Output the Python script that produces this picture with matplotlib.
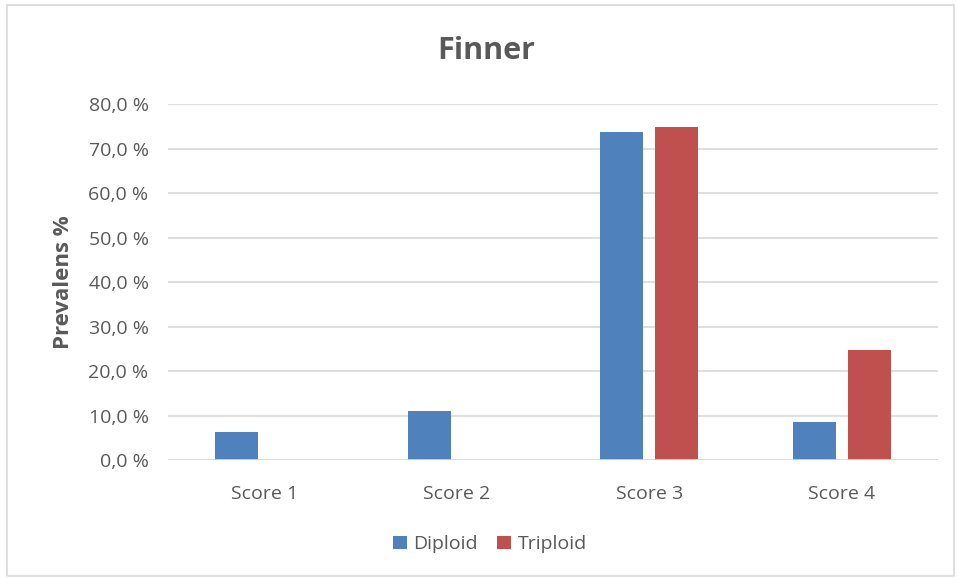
import numpy as np
import matplotlib
matplotlib.use("Agg")
import matplotlib.pyplot as plt
from matplotlib.patches import Rectangle
from matplotlib.ticker import FuncFormatter

categories = ["Score 1", "Score 2", "Score 3", "Score 4"]
diploid = [6.2, 11.1, 73.7, 8.6]
triploid = [0.0, 0.0, 74.8, 24.8]
series_names = ["Diploid", "Triploid"]
colors = ["#4F81BD", "#C0504D"]
text_color = "#595959"

plt.rcParams['font.family'] = ['Open Sans', 'DejaVu Sans']

fig = plt.figure(figsize=(9.57, 5.78), dpi=100)
ax = fig.add_axes([0.1755, 0.204, 0.8046, 0.616])

# ramme rundt hele diagrammet
fig.patches.append(Rectangle((0.007, 0.004), 0.99, 0.987, transform=fig.transFigure,
                             fill=False, edgecolor="#D9D9D9", linewidth=1.2))

x = np.arange(len(categories))
w = 0.223
off = 0.143
ax.bar(x - off, diploid, w, color=colors[0], label=series_names[0], zorder=3)
ax.bar(x + off, triploid, w, color=colors[1], label=series_names[1], zorder=3)

ax.set_xlim(-0.5, 3.5)
ax.set_ylim(0, 80)
ax.set_yticks(np.arange(0, 81, 10))
ax.yaxis.set_major_formatter(FuncFormatter(lambda v, p: f"{v:.1f}".replace(".", ",") + " %"))
ax.set_xticks(x)
ax.set_xticklabels(categories)
ax.grid(axis="y", color="#D9D9D9", linewidth=1.2, zorder=0)
for s in ax.spines.values():
    s.set_visible(False)
ax.axhline(0, color="#D9D9D9", linewidth=1.2, zorder=4)
ax.tick_params(axis="both", length=0, colors=text_color, labelsize=14)
ax.tick_params(axis="y", pad=14)
ax.tick_params(axis="x", pad=18)

ax.set_ylabel("Prevalens %", fontsize=16, fontweight="bold", color=text_color, labelpad=10)
fig.text(0.508, 0.911, "Finner", ha="center", va="center", fontsize=22,
         fontweight="bold", color=text_color)

fig.legend(loc="center", bbox_to_anchor=(0.512, 0.058), ncol=2, frameon=False,
           fontsize=14, labelcolor=text_color, handlelength=0.7, handleheight=0.7,
           handletextpad=0.35, columnspacing=1.0)

fig.savefig("out.png", dpi=100)
